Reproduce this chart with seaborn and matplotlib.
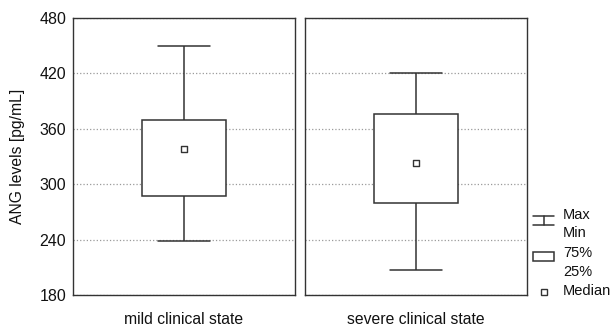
import numpy as np
import pandas as pd
import matplotlib
matplotlib.use("Agg")
import matplotlib.pyplot as plt
import seaborn as sns
from matplotlib.lines import Line2D
from matplotlib.patches import Rectangle

# five-number summary per group: min, 25%, median, 75%, max
states = ["mild clinical state", "severe clinical state"]
mild_stats = [239, 287, 338, 370, 450]
severe_stats = [207, 280, 323, 376, 420]
y_ticks = [180, 240, 300, 360, 420, 480]
legend_labels = ["Max", "Min", "75%", "25%", "Median"]

df = pd.DataFrame({
    "state": [states[0]] * 5 + [states[1]] * 5,
    "value": mild_stats + severe_stats,
})

sns.set_style("white")
plt.rcParams["font.family"] = ["Liberation Sans", "DejaVu Sans"]

W, H = 613, 328
line_col = "#333333"


def fx(x):
    return x / W


def fy(y):
    return 1 - y / H


fig, axes = plt.subplots(1, 2, figsize=(W / 100, H / 100), dpi=100, sharey=True)
fig.subplots_adjust(left=fx(73), right=fx(527), bottom=fy(295), top=fy(18), wspace=0.045)

for ax, state in zip(axes, states):
    sub = df[df["state"] == state]
    # 5 values -> quartiles land exactly on the 2nd/3rd/4th value
    sns.boxplot(data=sub, y="value", ax=ax, whis=(0, 100), width=0.38,
                capwidths=0.237, color="white", saturation=1,
                linecolor=line_col, linewidth=1.1, showfliers=False,
                medianprops={"visible": False})
    ax.scatter([0], [np.median(sub["value"])], marker="s", s=22,
               facecolor="white", edgecolor=line_col, linewidth=1, zorder=5)
    ax.set_xlim(-0.5, 0.5)
    ax.set_ylim(180, 480)
    ax.set_yticks(y_ticks)
    ax.set_xticks([])
    ax.yaxis.grid(True, linestyle=":", color="#9a9a9a", linewidth=0.9)
    ax.set_axisbelow(True)
    for sp in ax.spines.values():
        sp.set_visible(True)
        sp.set_color(line_col)
        sp.set_linewidth(1.0)
    ax.set_xlabel(state, fontsize=11.3, labelpad=12, color="#111111")
    ax.set_ylabel("")
    ax.tick_params(axis="y", length=0, pad=5, labelsize=11.5, colors="#111111")

axes[0].set_ylabel("ANG levels [pg/mL]", fontsize=11.3, labelpad=10, color="#111111")
axes[1].tick_params(axis="y", labelleft=False)

# legend drawn by hand on the right
lw = 1.1
fig.add_artist(Line2D([fx(533), fx(554)], [fy(216), fy(216)], color=line_col, lw=lw))
fig.add_artist(Line2D([fx(533), fx(554)], [fy(225), fy(225)], color=line_col, lw=lw))
fig.add_artist(Line2D([fx(543.5), fx(543.5)], [fy(216), fy(225)], color=line_col, lw=lw))
fig.add_artist(Rectangle((fx(533), fy(261)), fx(21), 9 / H, transform=fig.transFigure,
                         facecolor="white", edgecolor=line_col, lw=lw))
fig.add_artist(Line2D([fx(544)], [fy(291.5)], marker="s", markersize=4.5,
                      markerfacecolor="white", markeredgecolor=line_col,
                      markeredgewidth=1, linestyle="none"))

legend_y = [215, 233, 253, 272, 291]
for lab, yy in zip(legend_labels, legend_y):
    fig.text(fx(563), fy(yy), lab, fontsize=10.5, va="center", ha="left", color="#111111")

fig.savefig("out.png", dpi=100)
